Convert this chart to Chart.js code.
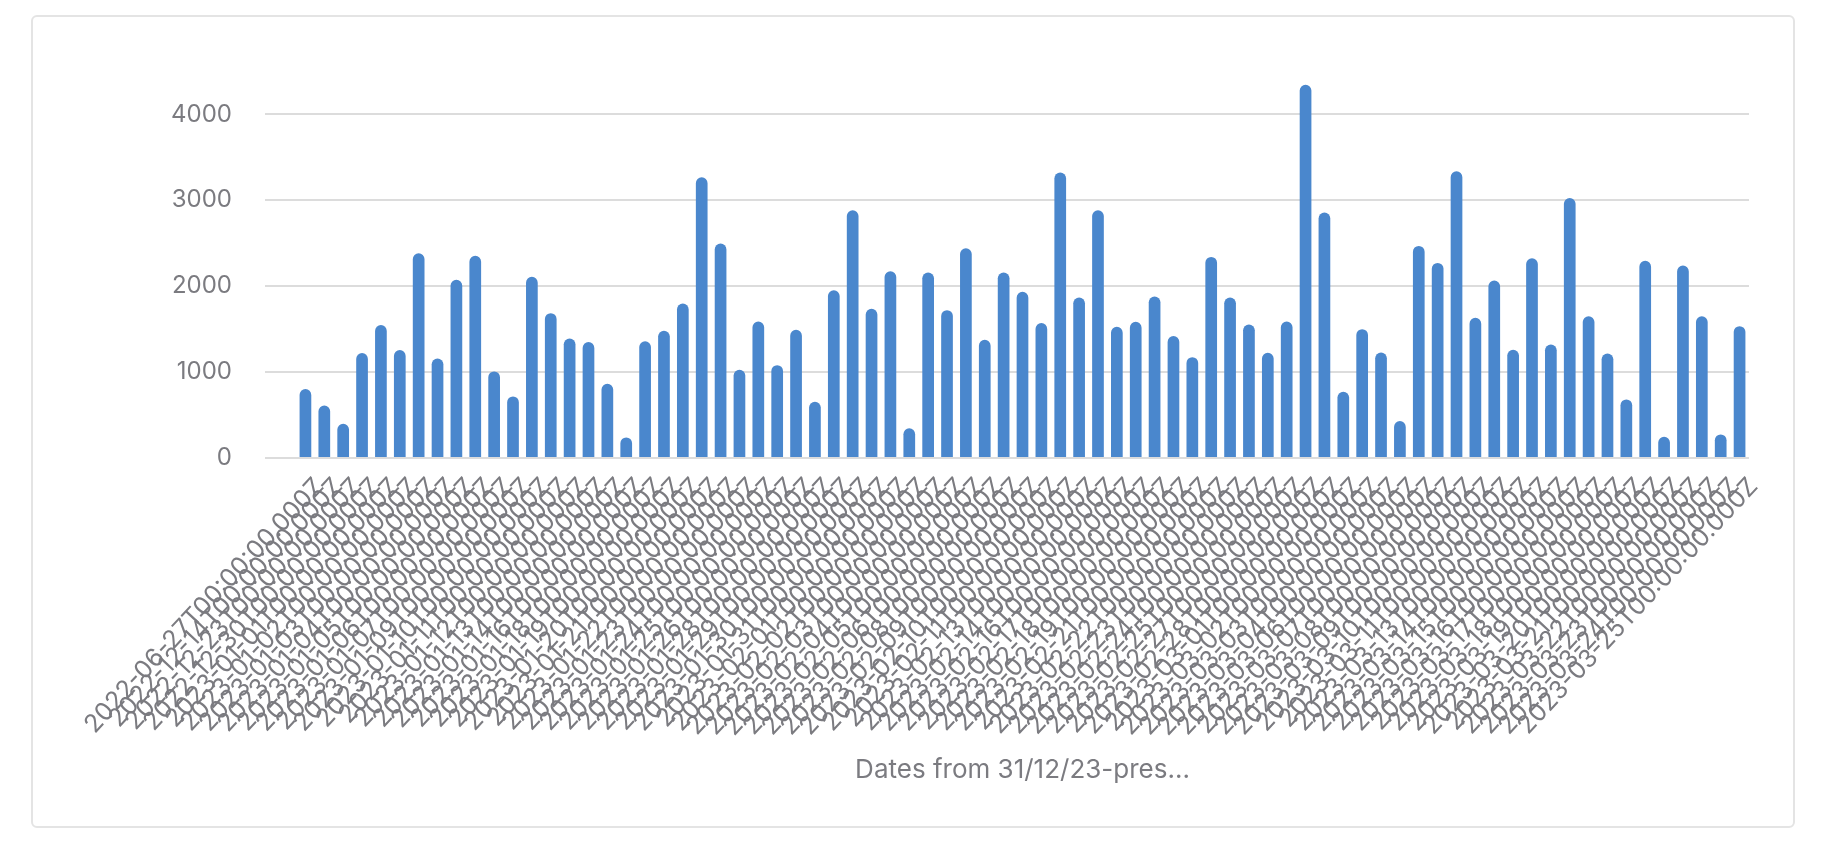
<!DOCTYPE html>
<html>
<head>
<meta charset="utf-8">
<script src="https://cdn.jsdelivr.net/npm/chart.js@4"></script>
<style>
  html, body { margin: 0; padding: 0; background: #fff; }
  #card {
    position: absolute; left: 31px; top: 15px; width: 1760px; height: 809px;
    border: 2px solid #e4e4e4; border-radius: 6px; box-sizing: content-box;
  }
  #myChart { position: absolute; left: 0; top: 0; }
</style>
</head>
<body>
<div id="card"></div>
<canvas id="myChart" width="1822" height="860"></canvas>
<script>
// dates on the x axis (labels are shown as ISO strings)
const dates = [
  '2022-06-27', '2022-12-14', '2022-12-23', '2022-12-30', '2023-01-01', '2023-01-02', '2023-01-03',
  '2023-01-04', '2023-01-05', '2023-01-06', '2023-01-07', '2023-01-09', '2023-01-10', '2023-01-11',
  '2023-01-12', '2023-01-13', '2023-01-14', '2023-01-16', '2023-01-18', '2023-01-19', '2023-01-20',
  '2023-01-21', '2023-01-22', '2023-01-23', '2023-01-24', '2023-01-25', '2023-01-26', '2023-01-28',
  '2023-01-29', '2023-01-30', '2023-01-31', '2023-02-01', '2023-02-02', '2023-02-03', '2023-02-04',
  '2023-02-05', '2023-02-06', '2023-02-08', '2023-02-09', '2023-02-10', '2023-02-11', '2023-02-13',
  '2023-02-14', '2023-02-16', '2023-02-17', '2023-02-18', '2023-02-19', '2023-02-21', '2023-02-22',
  '2023-02-23', '2023-02-24', '2023-02-25', '2023-02-27', '2023-02-28', '2023-03-01', '2023-03-02',
  '2023-03-03', '2023-03-04', '2023-03-06', '2023-03-07', '2023-03-08', '2023-03-09', '2023-03-10',
  '2023-03-11', '2023-03-13', '2023-03-14', '2023-03-15', '2023-03-16', '2023-03-17', '2023-03-18',
  '2023-03-19', '2023-03-20', '2023-03-21', '2023-03-22', '2023-03-23', '2023-03-24', '2023-03-25'
]

const values = [
  802, 612, 399, 1221, 1547, 1256, 2384, 1159, 2074, 2353, 1008, 717, 2109, 1686, 1391, 1349,
  864, 240, 1360, 1481, 1798, 3267, 2496, 1027, 1589, 1081, 1492, 655, 1953, 2884, 1736, 2174,
  345, 2159, 1721, 2442, 1376, 2159, 1934, 1570, 3322, 1868, 2884, 1527, 1585, 1880, 1419, 1174,
  2341, 1868, 1554, 1225, 1589, 4345, 2857, 771, 1500, 1229, 430, 2469, 2271, 3337, 1632, 2066,
  1260, 2326, 1322, 3027, 1651, 1217, 682, 2295, 248, 2240, 1651, 275, 1535
]

const yTicks = [0, 1000, 2000, 3000, 4000]
const xTitle = 'Dates from 31/12/23-pres...'

const labels = dates.map(d => d + 'T00:00:00.000Z')
const grey = '#7b7b80'
const family = 'Inter, "Open Sans", sans-serif'

const ctx = document.getElementById('myChart').getContext('2d')

const chart = new Chart(ctx, {
  type: 'bar',
  data: {
    labels: labels,
    datasets: [{
      data: values,
      backgroundColor: '#4a87cd',
      borderWidth: 0,
      borderRadius: { topLeft: 6, topRight: 6, bottomLeft: 0, bottomRight: 0 },
      borderSkipped: false,
      barPercentage: 0.62,
      categoryPercentage: 1
    }]
  },
  options: {
    responsive: false,
    animation: false,
    layout: { padding: { left: 100, right: 73, top: 80, bottom: 50 } },
    plugins: { legend: { display: false }, tooltip: { enabled: false } },
    scales: {
      x: {
        grid: { display: false, drawTicks: false },
        border: { display: false },
        ticks: {
          autoSkip: false, minRotation: 47, maxRotation: 47,
          color: grey, font: { family: family, size: 25 }, padding: 14,
          labelOffset: 14
        },
        title: {
          display: true, text: xTitle, color: grey,
          font: { family: family, size: 26 },
          padding: { top: 0, bottom: 24 }
        },
        afterFit: (scale) => { scale.height = 352 }
      },
      y: {
        min: 0,
        max: 4400,
        border: { display: false },
        grid: { color: '#dcdcdc', lineWidth: 2, tickLength: 31 },
        ticks: {
          color: grey, font: { family: family, size: 24 }, padding: 33,
          callback: (v) => String(v)
        },
        afterBuildTicks: (scale) => {
          scale.ticks = yTicks.map(v => ({ value: v }))
        },
        afterFit: (scale) => { scale.width = 196 }
      }
    }
  }
})
</script>
</body>
</html>
